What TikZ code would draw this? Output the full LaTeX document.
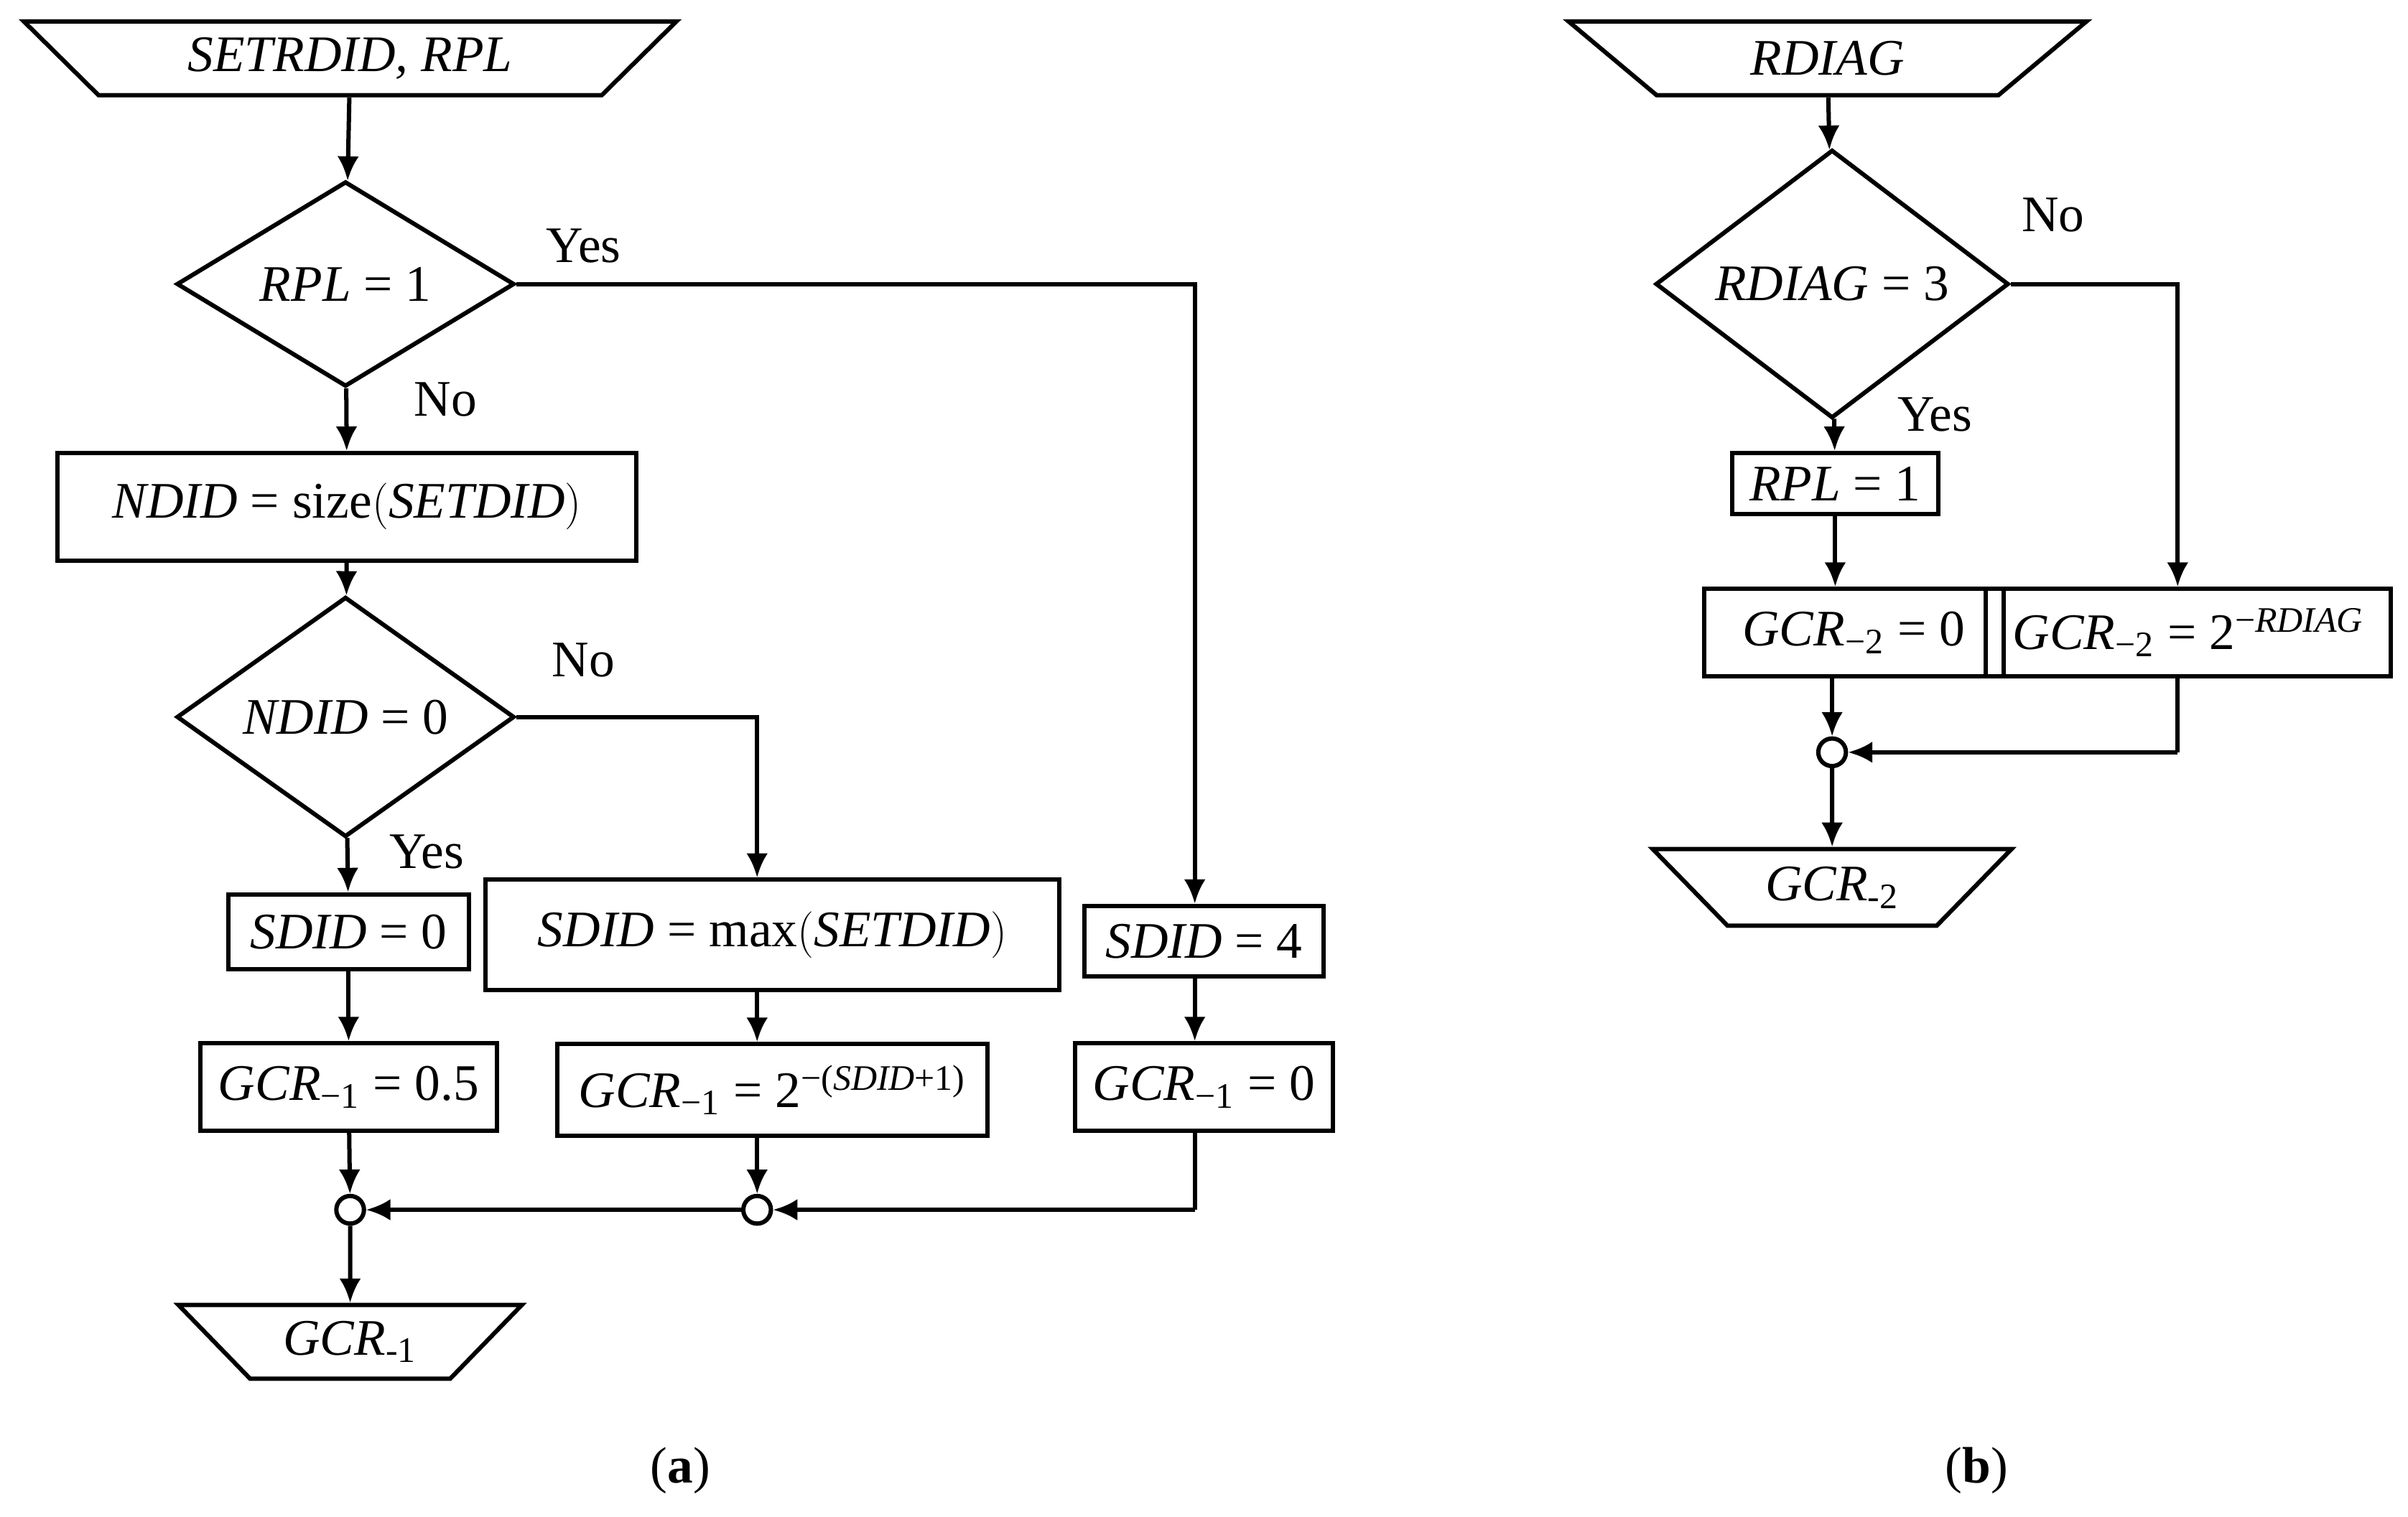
\documentclass[tikz,border=0pt]{standalone}
\usepackage{fontspec}
\setmainfont{Liberation Serif}
\usetikzlibrary{shapes.geometric,arrows.meta}

\begin{document}
\begin{tikzpicture}[x=0.02cm,y=-0.02cm,
    every node/.style={font=\fontsize{19}{22}\selectfont},
    io/.style={draw,line width=1.6pt,trapezium,shape border rotate=180,trapezium stretches=true,trapezium angle=41,inner sep=0pt},
    dec/.style={draw,line width=1.6pt,diamond,inner sep=0pt,minimum height=2.6cm},
    blk/.style={draw,line width=1.6pt,rectangle,inner sep=0pt},
    jn/.style={draw,line width=1.6pt,circle,fill=white,inner sep=0pt,minimum size=0.36cm},
    arr/.style={line width=1.6pt,-{Latex[length=9pt,width=8pt]}},
    ln/.style={line width=1.6pt}]
    \useasboundingbox (0,0) rectangle (1568,988);

    % (a) flow
    \node[io,minimum width=8.5cm,minimum height=0.96cm] (inA) at (228,38) {\textit{SETRDID, RPL}};
    \node[dec,minimum width=4.4cm] (rpl) at (225,185) {\textit{RPL} = 1};
    \node[blk,minimum width=7.54cm,minimum height=1.4cm] (ndid) at (226,330) {\textit{NDID} = size$\big($\textit{SETDID}$\big)$};
    \node[dec,minimum width=4.4cm] (nz) at (225,467) {\textit{NDID} = 0};
    \node[blk,minimum width=3.14cm,minimum height=0.98cm] (s0) at (227,607) {\textit{SDID} = 0};
    \node[blk,minimum width=7.48cm,minimum height=1.44cm] (smax) at (503,609) {\textit{SDID} = max$\big($\textit{SETDID}$\big)$};
    \node[blk,minimum width=3.12cm,minimum height=0.92cm] (s4) at (784,613) {\textit{SDID} = 4};
    \node[blk,minimum width=3.86cm,minimum height=1.14cm] (g05) at (227,708) {\textit{GCR}\textsubscript{−1} = 0.5};
    \node[blk,minimum width=5.6cm,minimum height=1.2cm] (gpow) at (503,710) {\textit{GCR}\textsubscript{−1} = 2\textsuperscript{−(\textit{SDID}+1)}};
    \node[blk,minimum width=3.36cm,minimum height=1.14cm] (g0) at (784,708) {\textit{GCR}\textsubscript{−1} = 0};
    \node[jn] (j1) at (228,788) {};
    \node[jn] (j2) at (493,788) {};
    \coordinate (c1) at (778,788);
    \node[io,minimum width=4.5cm,minimum height=0.96cm] (outA) at (228,874) {\textit{GCR}\textsubscript{-1}};

    \draw[arr] (inA) -- (rpl);
    \draw[arr] (rpl.east) -| (s4.north -| c1);
    \draw[arr] (rpl) -- (ndid);
    \draw[arr] (ndid) -- (nz);
    \draw[arr] (nz.east) -| (j2 |- smax.north);
    \draw[arr] (nz) -- (s0);
    \draw[arr] (s0) -- (g05);
    \draw[arr] (smax.south -| j2) -- (gpow.north -| j2);
    \draw[arr] (s4.south -| c1) -- (g0.north -| c1);
    \draw[arr] (g05) -- (j1);
    \draw[arr] (gpow.south -| j2) -- (j2);
    \draw[ln] (g0.south -| c1) -- (c1);
    \draw[arr] (c1) -- (j2);
    \draw[arr] (j2) -- (j1);
    \draw[arr] (j1) -- (outA);

    \node at (380,160) {Yes};
    \node at (290,260) {No};
    \node at (380,430) {No};
    \node at (278,555) {Yes};
    \node at (443,958) {(\textbf{a})};

    % (b) flow
    \node[io,minimum width=6.8cm,minimum height=0.96cm] (inB) at (1190,38) {\textit{RDIAG}};
    \node[dec,minimum width=4.6cm] (rd) at (1193,185) {\textit{RDIAG} = 3};
    \node[blk,minimum width=2.68cm,minimum height=0.8cm] (rp) at (1195,315) {\textit{RPL} = 1};
    \node[blk,minimum width=3.9cm,minimum height=1.14cm] (gb0) at (1207,412) {\textit{GCR}\textsubscript{−2} = 0};
    \node[blk,minimum width=5.28cm,minimum height=1.14cm] (gbp) at (1425,412) {\textit{GCR}\textsubscript{−2} = 2\textsuperscript{−\textit{RDIAG}}};
    \node[jn] (j3) at (1193,490) {};
    \coordinate (c2) at (1418,490);
    \node[io,minimum width=4.7cm,minimum height=1.0cm] (outB) at (1193,578) {\textit{GCR}\textsubscript{-2}};

    \draw[arr] (inB) -- (rd);
    \draw[arr] (rd.east) -| (gbp.north -| c2);
    \draw[arr] (rd) -- (rp);
    \draw[arr] (rp) -- (gb0.north -| rp);
    \draw[arr] (gb0.south -| j3) -- (j3);
    \draw[ln] (gbp.south -| c2) -- (c2);
    \draw[arr] (c2) -- (j3);
    \draw[arr] (j3) -- (outB);

    \node at (1337,140) {No};
    \node at (1260,270) {Yes};
    \node at (1287,958) {(\textbf{b})};
\end{tikzpicture}
\end{document}
